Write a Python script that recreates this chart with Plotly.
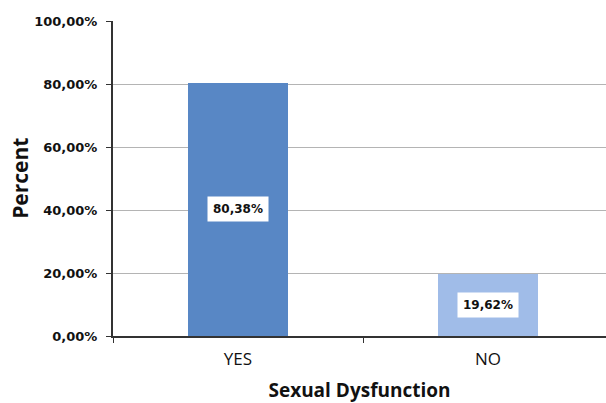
import plotly.graph_objects as go

categories = ["YES", "NO"]
values = [0.8038, 0.1962]
labels = ["80,38%", "19,62%"]
bar_colors = ["#5887C5", "#A0BCE8"]
y_ticks = [0, 0.2, 0.4, 0.6, 0.8, 1.0]

fig = go.Figure()
fig.add_trace(go.Bar(
    x=categories, y=values, width=0.4,
    marker=dict(color=bar_colors, line=dict(width=0)),
    hoverinfo="skip",
))

for c, v, t in zip(categories, values, labels):
    fig.add_annotation(
        x=c, y=v / 2, text="<b>" + t + "</b>", showarrow=False,
        bgcolor="white", borderpad=5,
        font=dict(family="DejaVu Sans", size=12, color="#111111"),
    )

# y-axis title placed as rotated annotation
fig.add_annotation(
    xref="paper", yref="paper", x=-0.19, y=0.5,
    xanchor="center", yanchor="middle", textangle=-90,
    text="<b>Percent</b>", showarrow=False,
    font=dict(family="Open Sans", size=21, color="#111111"),
)

fig.update_layout(
    width=606, height=403,
    margin=dict(l=113, r=0, t=21, b=67),
    paper_bgcolor="white", plot_bgcolor="white",
    separators=", ",
    showlegend=False,
    bargap=0,
    xaxis=dict(
        range=[-0.5, 1.472],
        showline=True, linecolor="#333333", linewidth=2,
        ticks="outside", tickson="boundaries", ticklen=5, tickcolor="#333333",
        tickfont=dict(family="Open Sans", size=17, color="#111111"),
        ticklabelstandoff=7,
        title=dict(text="<b>Sexual Dysfunction</b>", font=dict(family="Open Sans", size=19, color="#111111"), standoff=14),
        showgrid=False,
    ),
    yaxis=dict(
        range=[0, 1.0],
        tickvals=y_ticks, tickformat=".2%",
        showline=True, linecolor="#333333", linewidth=2,
        ticks="outside", ticklen=5, tickcolor="#333333",
        tickfont=dict(family="DejaVu Sans", size=13, color="#111111", weight="bold"),
        ticklabelstandoff=6,
        showgrid=True, gridcolor="#B4B4B4", gridwidth=1,
        zeroline=False,
    ),
)

fig.write_html("out.html")
